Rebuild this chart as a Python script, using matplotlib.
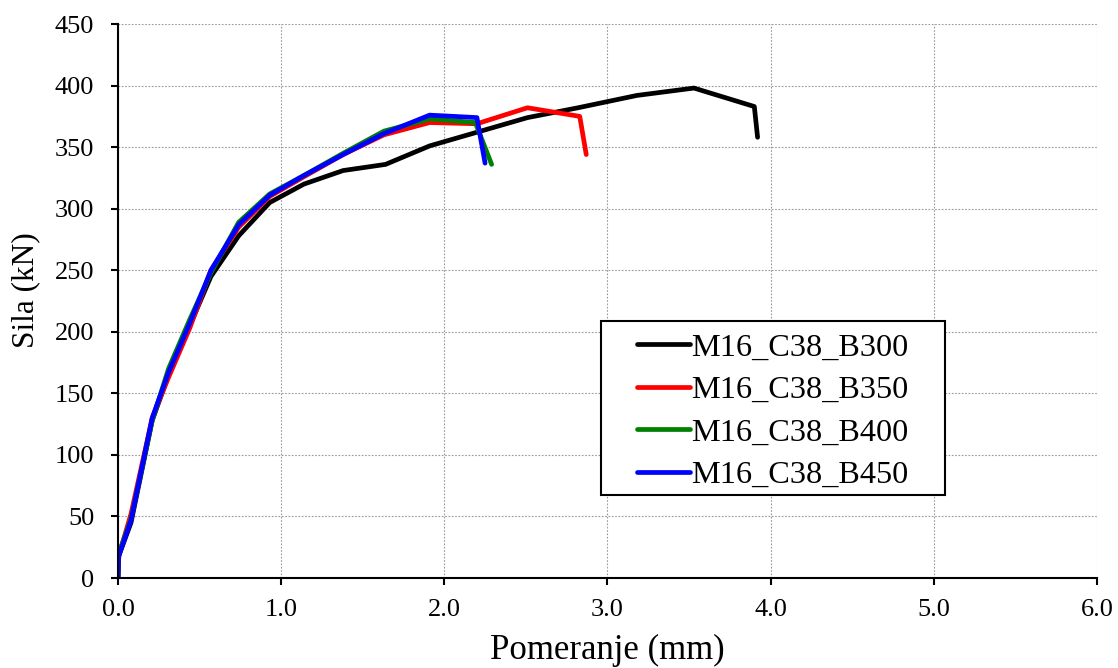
import matplotlib
matplotlib.use("Agg")
import matplotlib.pyplot as plt
from matplotlib.patches import Rectangle

plt.rcParams['font.family'] = ['Liberation Serif', 'DejaVu Serif']

labels = ["M16_C38_B300", "M16_C38_B350", "M16_C38_B400", "M16_C38_B450"]
colors = ["black", "red", "green", "blue"]

x_b300 = [0, 0.005, 0.08, 0.21, 0.31, 0.44, 0.57, 0.74, 0.93, 1.14, 1.38, 1.64, 1.91, 2.51, 2.82, 3.18, 3.53, 3.90, 3.92]
y_b300 = [0, 18, 45, 128, 165, 205, 245, 278, 305, 320, 331, 336, 351, 374, 382, 392, 398, 383, 358]

x_b350 = [0, 0.005, 0.08, 0.21, 0.31, 0.44, 0.57, 0.74, 0.93, 1.14, 1.38, 1.63, 1.91, 2.20, 2.51, 2.83, 2.87]
y_b350 = [0, 18, 52, 130, 163, 203, 250, 285, 310, 326, 344, 360, 370, 369, 382, 375, 344]

x_b400 = [0, 0.005, 0.08, 0.21, 0.31, 0.44, 0.57, 0.74, 0.93, 1.14, 1.38, 1.63, 1.91, 2.19, 2.29]
y_b400 = [0, 20, 48, 128, 170, 210, 248, 289, 312, 327, 345, 363, 373, 370, 336]

x_b450 = [0, 0.005, 0.08, 0.21, 0.31, 0.44, 0.57, 0.74, 0.93, 1.14, 1.38, 1.63, 1.91, 2.20, 2.25]
y_b450 = [0, 18, 47, 130, 167, 207, 250, 287, 311, 327, 344, 361, 376, 374, 337]

series = [(x_b300, y_b300), (x_b350, y_b350), (x_b400, y_b400), (x_b450, y_b450)]

xticks = [0, 1, 2, 3, 4, 5, 6]
yticks = list(range(0, 451, 50))

fig = plt.figure(figsize=(11.18, 6.68), dpi=100)
ax = fig.add_axes([0.1055, 0.1347, 0.8757, 0.8293])

for (xs, ys), c, lab in zip(series, colors, labels):
    ax.plot(xs, ys, color=c, lw=3.4, label=lab, solid_capstyle='round', solid_joinstyle='round')

ax.set_xlim(0, 6)
ax.set_ylim(0, 450)
ax.set_xticks(xticks)
ax.set_xticklabels([f"{v:.1f}" for v in xticks])
ax.set_yticks(yticks)
ax.tick_params(axis='both', labelsize=19, direction='out', length=5, width=1.5, colors='black')
ax.tick_params(axis='x', pad=10)
ax.tick_params(axis='y', pad=12)
ax.grid(True, color='#999999', linestyle=(0, (1.5, 1.5)), linewidth=0.8)
ax.set_axisbelow(True)
for s in ['top', 'right']:
    ax.spines[s].set_visible(False)
for s in ['left', 'bottom']:
    ax.spines[s].set_linewidth(1.5)

ax.set_xlabel("Pomeranje (mm)", fontsize=25)
ax.set_ylabel("Sila (kN)", fontsize=22.5)
ax.xaxis.set_label_coords(0.5, -0.101)
ax.yaxis.set_label_coords(-0.0797, 0.52)

# legend frame
ax.add_patch(Rectangle((0.493, 0.1498), 0.3514, 0.314, transform=ax.transAxes,
                       facecolor='white', edgecolor='black', linewidth=1.5, zorder=5))
leg = ax.legend(loc='upper left', bbox_to_anchor=(0.530, 0.4423),
                fontsize=23.2, frameon=False,
                handlelength=1.65, handletextpad=0.05, borderpad=0, labelspacing=0.4,
                borderaxespad=0)
leg.set_zorder(6)

fig.savefig("out.png", dpi=100)
